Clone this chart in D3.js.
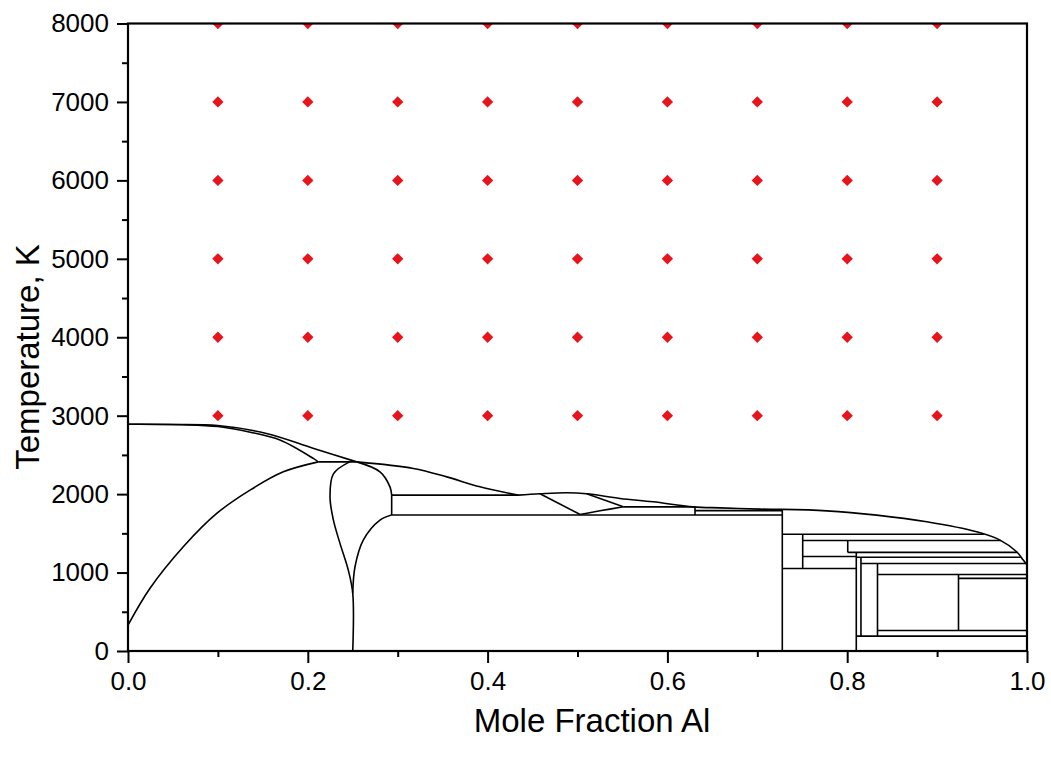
<!DOCTYPE html>
<html>
<head>
<meta charset="utf-8">
<script src="https://cdn.jsdelivr.net/npm/d3@7"></script>
<style>
  body { margin: 0; background: #fff; }
  text { font-family: "Liberation Sans", Arial, sans-serif; }
</style>
</head>
<body>
<div id="chart"></div>
<script>
// Mo-Al phase diagram with red sampling grid

let width = 1051, height = 759;
let margin = {left: 128, right: 24, top: 23.5, bottom: 108};

// tick values
let xMajor = [0, 0.2, 0.4, 0.6, 0.8, 1.0];
let xMinor = [0.1, 0.3, 0.5, 0.7, 0.9];
let yMajor = [0, 1000, 2000, 3000, 4000, 5000, 6000, 7000, 8000];
let yMinor = [500, 1500, 2500, 3500, 4500, 5500, 6500, 7500];

// red sample points (composition x temperature)
let sampleX = [0.1, 0.2, 0.3, 0.4, 0.5, 0.6, 0.7, 0.8, 0.9];
let sampleT = [3000, 4000, 5000, 6000, 7000, 8000];

// phase boundary curves, [mole fraction Al, T]
let liquidusA = [[0, 2890], [0.05, 2888], [0.1, 2874], [0.154, 2773], [0.2058, 2586], [0.2544, 2411]];
let liquidusB = [[0.2544, 2411], [0.3174, 2327], [0.3545, 2220], [0.3915, 2093], [0.4338, 1987]];
let liquidusC = [[0.4338, 1987], [0.4583, 2004], [0.488, 2017], [0.5102, 2004], [0.5473, 1945],
                 [0.584, 1902], [0.6288, 1838], [0.6585, 1825], [0.703, 1809], [0.7278, 1805]];
let liquidusD = [[0.7278, 1805], [0.7772, 1787], [0.8328, 1732], [0.8884, 1647], [0.944, 1519],
                 [0.970, 1414], [0.9885, 1265], [0.9958, 1159], [1.0, 1096]];
let solidusMo = [[0, 2890], [0.06, 2885], [0.1, 2862], [0.136, 2790], [0.169, 2690], [0.2061, 2455], [0.2117, 2411]];
let solvusMo = [[0, 330], [0.0245, 800], [0.0615, 1329], [0.0987, 1754],
                [0.1357, 2051], [0.1728, 2284], [0.2117, 2411]];
let lensLeft = [[0.2465, 2411], [0.2285, 2258], [0.2247, 1966], [0.2285, 1668], [0.2358, 1372],
                [0.245, 1032], [0.25, 735], [0.25, 0]];
let lensRightUp = [[0.2544, 2411], [0.2803, 2284], [0.2914, 2093], [0.2933, 1987]];
let lensRightLow = [[0.2933, 1734], [0.2803, 1669], [0.2617, 1414], [0.2525, 1074], [0.25, 735]];
let midA = [[0.4583, 2004], [0.503, 1740]];
let midB = [[0.5102, 2004], [0.551, 1838]];
let midC = [[0.503, 1740], [0.525, 1787], [0.551, 1838]];

let curves = [liquidusA, liquidusB, liquidusC, liquidusD, solidusMo, solvusMo,
              lensLeft, lensRightUp, lensRightLow, midA, midB, midC];

// isotherms: [T, x from, x to]
let isotherms = [
  [2411, 0.2117, 0.2544],
  [1987, 0.2933, 0.4338],
  [1734, 0.2933, 0.7278],
  [1838, 0.551, 0.6307],
  [1790, 0.6307, 0.7278],
  [1488, 0.7278, 0.952],
  [1408, 0.7505, 0.971],
  [1205, 0.7505, 0.8101],
  [1257, 0.8006, 0.989],
  [1195, 0.8101, 0.993],
  [1115, 0.8153, 0.998],
  [1051, 0.7278, 0.8101],
  [975, 0.8337, 1.0],
  [926, 0.9238, 1.0],
  [261, 0.8337, 1.0],
  [190, 0.8101, 1.0]
];

// compound lines: [x, T from, T to]
let compounds = [
  [0.2933, 1987, 1734],
  [0.6307, 1838, 1734],
  [0.7278, 1805, 0],
  [0.7505, 1488, 1051],
  [0.8006, 1408, 1257],
  [0.8101, 1257, 0],
  [0.8153, 1195, 190],
  [0.8337, 1115, 190],
  [0.9238, 975, 261]
];

let xScale = d3.scaleLinear().domain([0, 1]).range([margin.left, width - margin.right]);
let yScale = d3.scaleLinear().domain([0, 8000]).range([height - margin.bottom, margin.top]);

let svg = d3.select("#chart").append("svg")
  .attr("width", width)
  .attr("height", height);

svg.append("defs").append("clipPath").attr("id", "plotclip")
  .append("rect")
  .attr("x", xScale(0)).attr("y", yScale(8000))
  .attr("width", xScale(1) - xScale(0))
  .attr("height", yScale(0) - yScale(8000));

let plot = svg.append("g").attr("clip-path", "url(#plotclip)");

// phase boundaries
let line = d3.line()
  .x(d => xScale(d[0]))
  .y(d => yScale(d[1]))
  .curve(d3.curveCatmullRom.alpha(0.5));

plot.selectAll("path.curve")
  .data(curves)
  .enter().append("path")
  .attr("class", "curve")
  .attr("d", line)
  .attr("fill", "none")
  .attr("stroke", "black")
  .attr("stroke-width", 1.6);

plot.selectAll("line.iso")
  .data(isotherms)
  .enter().append("line")
  .attr("class", "iso")
  .attr("x1", d => xScale(d[1]))
  .attr("x2", d => xScale(d[2]))
  .attr("y1", d => yScale(d[0]))
  .attr("y2", d => yScale(d[0]))
  .attr("stroke", "black")
  .attr("stroke-width", 1.6);

plot.selectAll("line.comp")
  .data(compounds)
  .enter().append("line")
  .attr("class", "comp")
  .attr("x1", d => xScale(d[0]))
  .attr("x2", d => xScale(d[0]))
  .attr("y1", d => yScale(d[1]))
  .attr("y2", d => yScale(d[2]))
  .attr("stroke", "black")
  .attr("stroke-width", 1.6);

// sample grid
let samples = [];
sampleT.forEach(t => sampleX.forEach(x => samples.push([x, t])));

let diamond = d3.symbol().type(d3.symbolSquare).size(64);
plot.selectAll("path.pt")
  .data(samples)
  .enter().append("path")
  .attr("class", "pt")
  .attr("d", diamond)
  .attr("transform", d => "translate(" + xScale(d[0]) + "," + yScale(d[1]) + ") rotate(45)")
  .attr("fill", "#e8141b");

// frame
svg.append("rect")
  .attr("x", xScale(0)).attr("y", yScale(8000))
  .attr("width", xScale(1) - xScale(0))
  .attr("height", yScale(0) - yScale(8000))
  .attr("fill", "none")
  .attr("stroke", "black")
  .attr("stroke-width", 2.2);

// x axis
let xAxis = svg.append("g")
  .attr("transform", "translate(0," + yScale(0) + ")")
  .call(d3.axisBottom(xScale).tickValues(xMajor).tickSize(12).tickPadding(9)
    .tickFormat(d3.format(".1f")));
xAxis.append("g").call(d3.axisBottom(xScale).tickValues(xMinor).tickSize(6).tickFormat(""));

// y axis
let yAxis = svg.append("g")
  .attr("transform", "translate(" + xScale(0) + ",0)")
  .call(d3.axisLeft(yScale).tickValues(yMajor).tickSize(11).tickPadding(8)
    .tickFormat(d3.format("d")));
yAxis.append("g").call(d3.axisLeft(yScale).tickValues(yMinor).tickSize(6).tickFormat(""));

svg.selectAll(".domain").remove();
svg.selectAll(".tick line").attr("stroke", "black").attr("stroke-width", 2);
svg.selectAll(".tick text")
  .attr("fill", "black")
  .style("font-size", "26px");

// axis titles
svg.append("text")
  .attr("x", 592)
  .attr("y", 732)
  .attr("text-anchor", "middle")
  .style("font-size", "33px")
  .text("Mole Fraction Al");

svg.append("text")
  .attr("transform", "translate(39," + 357 + ") rotate(-90)")
  .attr("text-anchor", "middle")
  .style("font-size", "33px")
  .text("Temperature, K");
</script>
</body>
</html>
